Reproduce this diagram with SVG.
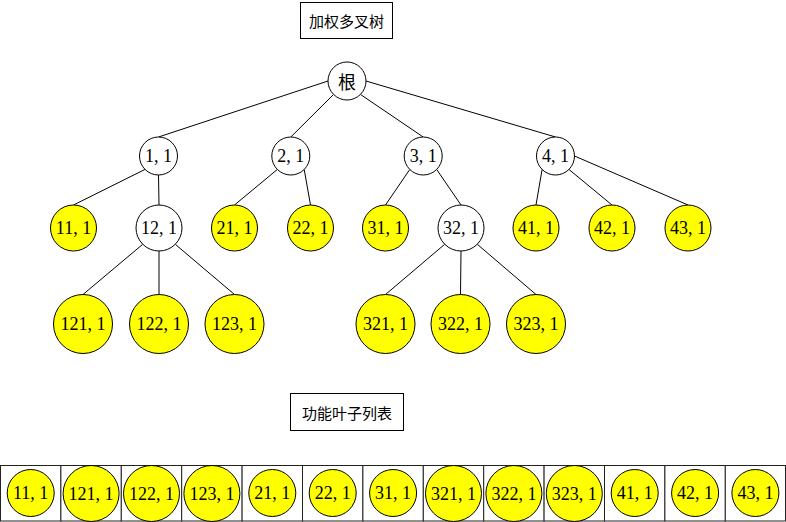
<svg xmlns="http://www.w3.org/2000/svg" width="786" height="522" viewBox="0 0 786 522">
<style>
.bg{fill:#fff}
.box{fill:#fff;stroke:#000;stroke-width:1}
.cell{fill:#fff;stroke:#222;stroke-width:1}
.inner{fill:#fff;stroke:#000;stroke-width:1}
.leaf{fill:#ffff00;stroke:#000;stroke-width:1}
.edge{stroke:#000;stroke-width:1;fill:none}
.t{font-family:"Liberation Serif","DejaVu Serif",serif;font-size:18px;text-anchor:middle;dominant-baseline:central;fill:#000}
.c{font-family:"Noto Sans CJK SC","Noto Sans",sans-serif;font-size:15px;text-anchor:middle;dominant-baseline:central;fill:#000}
.cr{font-family:"Noto Sans CJK SC","Noto Sans",sans-serif;font-size:18px;text-anchor:middle;dominant-baseline:central;fill:#000}
</style>
<rect class="bg" x="0" y="0" width="786" height="522"/>
<g id="title">
<rect class="box" x="300.5" y="2.5" width="92" height="36"/>
<text class="c" x="346.5" y="20.5">加权多叉树</text>
</g>
<g id="connectors">
<line class="edge" x1="328" y1="81" x2="158.5" y2="137"/>
<line class="edge" x1="333.6" y1="94.4" x2="290.8" y2="137"/>
<line class="edge" x1="360.4" y1="94.4" x2="423.2" y2="137"/>
<line class="edge" x1="366" y1="81" x2="555.5" y2="137"/>
<line class="edge" x1="145" y1="169.4" x2="73.5" y2="205"/>
<line class="edge" x1="158.5" y1="175" x2="159" y2="205"/>
<line class="edge" x1="277.4" y1="169.4" x2="234.5" y2="205"/>
<line class="edge" x1="304.2" y1="169.4" x2="310.5" y2="205"/>
<line class="edge" x1="409.8" y1="169.4" x2="385.5" y2="205"/>
<line class="edge" x1="436.6" y1="169.4" x2="461" y2="205"/>
<line class="edge" x1="542.1" y1="169.4" x2="536" y2="205"/>
<line class="edge" x1="568.9" y1="169.4" x2="612" y2="205"/>
<line class="edge" x1="574.5" y1="156" x2="688" y2="205"/>
<line class="edge" x1="142.7" y1="244.3" x2="83" y2="294.5"/>
<line class="edge" x1="159" y1="251" x2="159" y2="294.5"/>
<line class="edge" x1="175.3" y1="244.3" x2="234.5" y2="294.5"/>
<line class="edge" x1="444.7" y1="244.3" x2="385.5" y2="294.5"/>
<line class="edge" x1="461" y1="251" x2="460.5" y2="294.5"/>
<line class="edge" x1="477.3" y1="244.3" x2="536" y2="294.5"/>
</g>
<g id="root"><circle class="inner" cx="347" cy="81" r="19"/><text class="cr" x="347" y="81">根</text></g>
<g id="n1"><circle class="inner" cx="158.5" cy="156" r="19"/><text class="t" x="158.5" y="156">1, 1</text></g>
<g id="n2"><circle class="inner" cx="290.8" cy="156" r="19"/><text class="t" x="290.8" y="156">2, 1</text></g>
<g id="n3"><circle class="inner" cx="423.2" cy="156" r="19"/><text class="t" x="423.2" y="156">3, 1</text></g>
<g id="n4"><circle class="inner" cx="555.5" cy="156" r="19"/><text class="t" x="555.5" y="156">4, 1</text></g>
<g id="n11"><circle class="leaf" cx="73.5" cy="228" r="23"/><text class="t" x="73.5" y="228">11, 1</text></g>
<g id="n12"><circle class="inner" cx="159" cy="228" r="23"/><text class="t" x="159" y="228">12, 1</text></g>
<g id="n21"><circle class="leaf" cx="234.5" cy="228" r="23"/><text class="t" x="234.5" y="228">21, 1</text></g>
<g id="n22"><circle class="leaf" cx="310.5" cy="228" r="23"/><text class="t" x="310.5" y="228">22, 1</text></g>
<g id="n31"><circle class="leaf" cx="385.5" cy="228" r="23"/><text class="t" x="385.5" y="228">31, 1</text></g>
<g id="n32"><circle class="inner" cx="461" cy="228" r="23"/><text class="t" x="461" y="228">32, 1</text></g>
<g id="n41"><circle class="leaf" cx="536" cy="228" r="23"/><text class="t" x="536" y="228">41, 1</text></g>
<g id="n42"><circle class="leaf" cx="612" cy="228" r="23"/><text class="t" x="612" y="228">42, 1</text></g>
<g id="n43"><circle class="leaf" cx="688" cy="228" r="23"/><text class="t" x="688" y="228">43, 1</text></g>
<g id="n121"><circle class="leaf" cx="83" cy="324" r="29.5"/><text class="t" x="83" y="324">121, 1</text></g>
<g id="n122"><circle class="leaf" cx="159" cy="324" r="29.5"/><text class="t" x="159" y="324">122, 1</text></g>
<g id="n123"><circle class="leaf" cx="234.5" cy="324" r="29.5"/><text class="t" x="234.5" y="324">123, 1</text></g>
<g id="n321"><circle class="leaf" cx="385.5" cy="324" r="29.5"/><text class="t" x="385.5" y="324">321, 1</text></g>
<g id="n322"><circle class="leaf" cx="460.5" cy="324" r="29.5"/><text class="t" x="460.5" y="324">322, 1</text></g>
<g id="n323"><circle class="leaf" cx="536" cy="324" r="29.5"/><text class="t" x="536" y="324">323, 1</text></g>
<g id="listTitle">
<rect class="box" x="290.5" y="393.5" width="113" height="37"/>
<text class="c" x="347" y="412">功能叶子列表</text>
</g>
<g id="list">
<g id="l0"><rect class="cell" x="0.5" y="465.5" width="60.4" height="55.5"/><circle class="leaf" cx="30.7" cy="493" r="23.5"/><text class="t" x="30.7" y="493">11, 1</text></g>
<g id="l1"><rect class="cell" x="60.9" y="465.5" width="60.4" height="55.5"/><circle class="leaf" cx="91.1" cy="493.5" r="28"/><text class="t" x="91.1" y="493.5">121, 1</text></g>
<g id="l2"><rect class="cell" x="121.3" y="465.5" width="60.4" height="55.5"/><circle class="leaf" cx="151.5" cy="493.5" r="28"/><text class="t" x="151.5" y="493.5">122, 1</text></g>
<g id="l3"><rect class="cell" x="181.7" y="465.5" width="60.4" height="55.5"/><circle class="leaf" cx="211.9" cy="493.5" r="28"/><text class="t" x="211.9" y="493.5">123, 1</text></g>
<g id="l4"><rect class="cell" x="242.1" y="465.5" width="60.4" height="55.5"/><circle class="leaf" cx="272.3" cy="493" r="23.5"/><text class="t" x="272.3" y="493">21, 1</text></g>
<g id="l5"><rect class="cell" x="302.5" y="465.5" width="60.4" height="55.5"/><circle class="leaf" cx="332.7" cy="493" r="23.5"/><text class="t" x="332.7" y="493">22, 1</text></g>
<g id="l6"><rect class="cell" x="362.9" y="465.5" width="60.4" height="55.5"/><circle class="leaf" cx="393.1" cy="493" r="23.5"/><text class="t" x="393.1" y="493">31, 1</text></g>
<g id="l7"><rect class="cell" x="423.3" y="465.5" width="60.4" height="55.5"/><circle class="leaf" cx="453.5" cy="493.5" r="28"/><text class="t" x="453.5" y="493.5">321, 1</text></g>
<g id="l8"><rect class="cell" x="483.7" y="465.5" width="60.4" height="55.5"/><circle class="leaf" cx="513.9" cy="493.5" r="28"/><text class="t" x="513.9" y="493.5">322, 1</text></g>
<g id="l9"><rect class="cell" x="544.1" y="465.5" width="60.4" height="55.5"/><circle class="leaf" cx="574.3" cy="493.5" r="28"/><text class="t" x="574.3" y="493.5">323, 1</text></g>
<g id="l10"><rect class="cell" x="604.5" y="465.5" width="60.4" height="55.5"/><circle class="leaf" cx="634.7" cy="493" r="23.5"/><text class="t" x="634.7" y="493">41, 1</text></g>
<g id="l11"><rect class="cell" x="664.9" y="465.5" width="60.4" height="55.5"/><circle class="leaf" cx="695.1" cy="493" r="23.5"/><text class="t" x="695.1" y="493">42, 1</text></g>
<g id="l12"><rect class="cell" x="725.3" y="465.5" width="60.2" height="55.5"/><circle class="leaf" cx="755.4" cy="493" r="23.5"/><text class="t" x="755.4" y="493">43, 1</text></g>
</g>
</svg>
